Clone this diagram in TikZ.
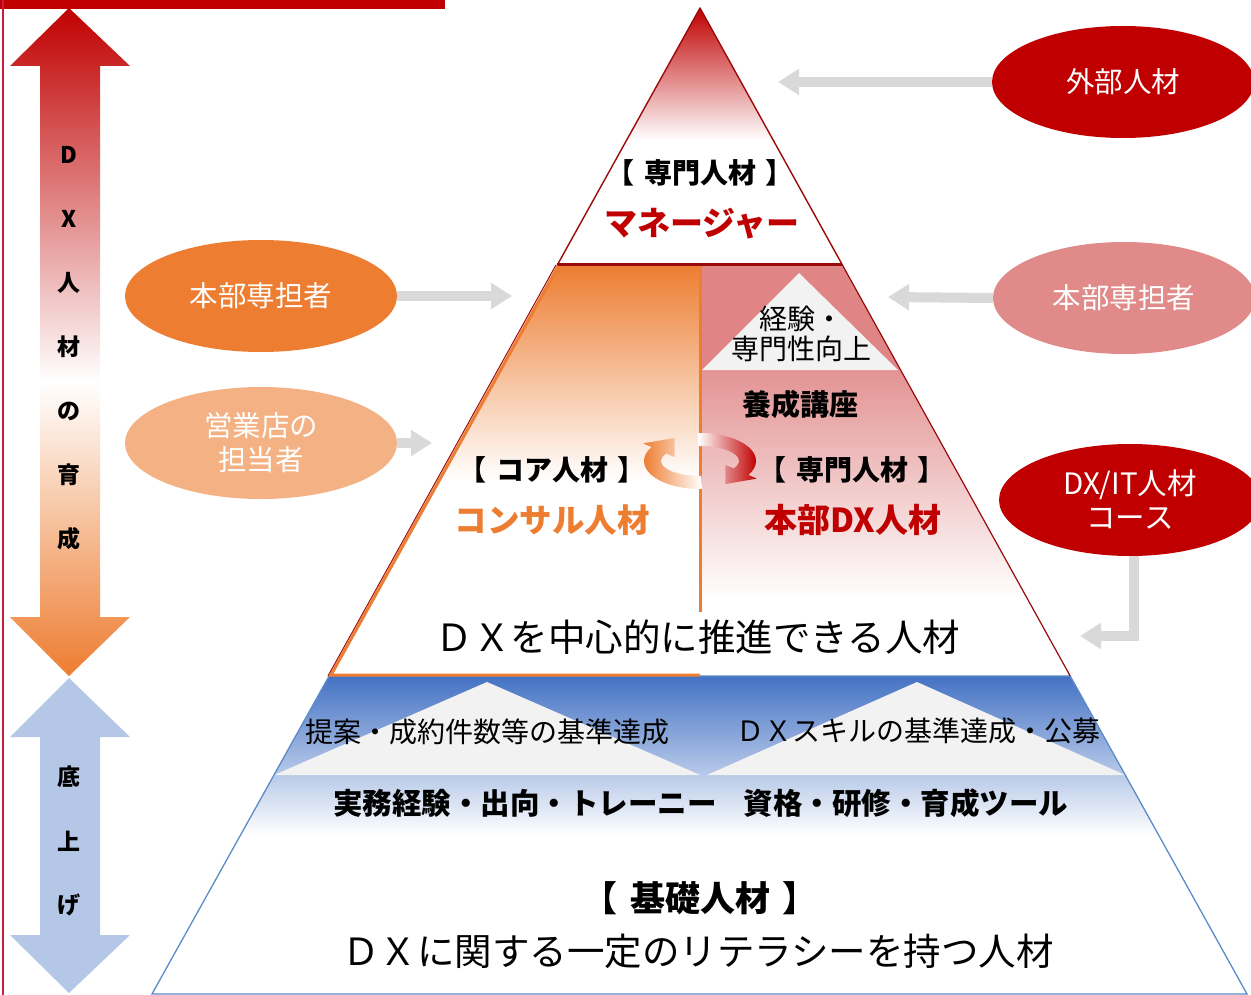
\documentclass[tikz,border=0pt]{standalone}
\usepackage{fontspec}
\setmainfont{Noto Sans CJK JP}
\usetikzlibrary{arrows.meta,shapes.geometric}
\definecolor{dxred}{HTML}{C00000}
\definecolor{dxdark}{HTML}{9A0A0A}
\definecolor{dxorange}{HTML}{ED7D31}
\definecolor{dxpeach}{HTML}{F4B183}
\definecolor{dxpink}{HTML}{E08A8A}
\definecolor{dxpinkbg}{HTML}{E08585}
\definecolor{dxpinklt}{HTML}{E39393}
\definecolor{dxblue}{HTML}{4472C4}
\definecolor{dxedge}{HTML}{5B8BC8}
\definecolor{dxlblue}{HTML}{B4C7E7}
\definecolor{dxgray}{HTML}{D9D9D9}
\definecolor{dxlgray}{HTML}{F2F2F2}
\definecolor{dxcrimson}{HTML}{C41E3A}
\pgfdeclareverticalshading{dxarrowshade}{100bp}{color(0bp)=(dxorange); color(25bp)=(dxorange); color(47bp)=(white); color(75bp)=(dxred); color(100bp)=(dxred)}
\tikzset{
  fs/.style={font=\fontsize{#1}{#1}\selectfont},
  fb/.style={font=\fontsize{#1}{#1}\selectfont\bfseries},
  oval/.style={ellipse, minimum width=262pt, minimum height=112pt, inner sep=0pt, text=white, align=center, font=\fontsize{28.5}{34}\selectfont},
  grayarrow/.style={draw=dxgray, line width=10pt, -{Triangle[width=25pt,length=21pt]}},
  sidetxt/.style={font=\fontsize{23}{23}\selectfont\bfseries, text=black}
}
\newcommand{\gap}{\hspace{0.35em}}
\begin{document}
\begin{tikzpicture}[x=1pt,y=-1pt]
\useasboundingbox (0,0) rectangle (1251,995);
\fill[white] (0,0) rectangle (1251,995);

% top red bar and left line
\fill[dxred] (0,0) rectangle (445,9);
\draw[dxcrimson, line width=2pt] (3,0) -- (3,995);

% left double arrow (red - white - orange)
\shade[shading=dxarrowshade]
  (69,8) -- (130,66) -- (100,66) -- (100,617) -- (130,617) -- (69,676)
  -- (10,617) -- (40,617) -- (40,66) -- (10,66) -- cycle;
\foreach \t/\yy in {D/155, X/219, 人/283, 材/347, の/411, 育/475, 成/539}
  \node[sidetxt] at (69,\yy) {\t};

% left double arrow (blue)
\fill[dxlblue]
  (69,678) -- (130,737) -- (100,737) -- (100,935) -- (130,935) -- (69,993)
  -- (10,935) -- (40,935) -- (40,737) -- (10,737) -- cycle;
\foreach \t/\yy in {底/777, 上/841, げ/905}
  \node[sidetxt] at (69,\yy) {\t};

% ---------- top triangle ----------
\begin{scope}
  \clip (700,8) -- (842.4,265) -- (557.3,265) -- cycle;
  \shade[top color=dxred, bottom color=white] (540,8) rectangle (860,140);
\end{scope}
\draw[dxdark, line width=1.4pt, line join=round] (700,8) -- (842.4,265) -- (557.3,265) -- cycle;

% ---------- middle section ----------
\begin{scope}
  \clip (557.3,265) -- (700,265) -- (700,676) -- (329.1,676) -- cycle;
  \shade[top color=dxorange, bottom color=white] (320,265) rectangle (700,480);
\end{scope}
\begin{scope}
  \clip (700,265) -- (842.4,265) -- (1070.2,676) -- (700,676) -- cycle;
  \fill[dxpinkbg] (700,265) rectangle (1080,370);
  \shade[top color=dxpinklt, bottom color=white] (700,370) rectangle (1080,600);
\end{scope}
\fill[dxlgray] (799,273) -- (898,370) -- (702,370) -- cycle;

% ---------- blue band ----------
\begin{scope}
  \clip (329.1,676) -- (1070.2,676) -- (1158.3,835) -- (240.9,835) -- cycle;
  \shade[top color=dxblue, bottom color=white] (230,676) rectangle (1170,835);
\end{scope}
\fill[dxlgray] (487,682) -- (700,775) -- (274.2,775) -- cycle;
\fill[dxlgray] (917,682) -- (1125,775) -- (707,775) -- cycle;

% outlines
\draw[dxedge, line width=1.3pt] (329.1,676) -- (152,994) -- (1247,994) -- (1070.2,676) -- cycle;
\draw[dxdark, line width=1.2pt] (842.4,265) -- (1070.2,676);
\draw[dxdark, line width=3pt] (557.3,265) -- (842.4,265);
\draw[dxdark, line width=1pt] (556,265) -- (328,676);
\draw[dxorange, line width=3pt, line join=miter] (558.5,266) -- (331,675) -- (700,675);
\draw[dxorange, line width=3pt] (700,266) -- (700,612);

% rotating arrows
\shade[left color=dxorange, right color=white]
  (701.95,488.98) arc[start angle=88, end angle=210, x radius=56, y radius=28]
  -- (643.3,443.4) -- (674.6,437.9) -- (674.5,457.1) -- (666.23,453.5)
  arc[start angle=210, end angle=88, x radius=39, y radius=15] -- cycle;
\shade[left color=white, right color=dxred]
  (698.05,433.02) arc[start angle=268, end angle=390, x radius=56, y radius=28]
  -- (756.7,478.6) -- (725.4,484.1) -- (725.5,464.9) -- (733.77,468.5)
  arc[start angle=390, end angle=268, x radius=39, y radius=15] -- cycle;

% ---------- texts in pyramid ----------
\node[fb=28] (t1) at (700,173) {【\gap 専門人材\gap 】};
\node[fb=33, text=dxred] (t2) at (702,224) {マネージャー};
\node[fs=28, align=center] (t3) at (801,334) {経験・\\[2pt]専門性向上};
\node[fb=29] (t4) at (800,404) {養成講座};
\node[fb=28] (t5) at (552,470) {【\gap コア人材\gap 】};
\node[fb=32.5, text=dxorange] (t6) at (552,520) {コンサル人材};
\node[fb=28] (t7) at (852,470) {【\gap 専門人材\gap 】};
\node[fb=33, text=dxred] (t8) at (853,520) {本部DX人材};
\node[fs=37.5] (t9) at (698,637) {ＤＸを中心的に推進できる人材};
\node[fs=28] (t10) at (487,732) {提案・成約件数等の基準達成};
\node[fs=28] (t11) at (918,731) {ＤＸスキルの基準達成・公募};
\node[fb=29.5] (t12) at (525,803) {実務経験・出向・トレーニー};
\node[fb=29.5] (t13) at (906,803) {資格・研修・育成ツール};
\node[fb=35] (t14) at (700,898) {【\gap 基礎人材\gap 】};
\node[fs=37.5] (t15) at (698,951) {ＤＸに関する一定のリテラシーを持つ人材};

% ---------- ellipses ----------
\node[oval, fill=dxred] (gaibu) at (1123,82) {外部人材};
\node[oval, fill=dxpink] (honbuR) at (1124,298) {本部専担者};
\node[oval, fill=dxred, font=\fontsize{29.5}{34}\selectfont] (dxit) at (1130,500) {DX/IT人材\\コース};
\node[oval, fill=dxorange, minimum width=272pt] (honbuL) at (261,296) {本部専担者};
\node[oval, fill=dxpeach, minimum width=272pt] (eigyo) at (261,443) {営業店の\\担当者};

% ---------- gray arrows ----------
\coordinate (gaibuTip) at (778,82);
\coordinate (honbuRTip) at (888,297);
\coordinate (honbuLTip) at (512,296);
\coordinate (eigyoTip) at (432,443);
\coordinate (dxitFoot) at (1134,556);
\coordinate (dxitTip) at (1080,636);
\draw[grayarrow] (gaibu.west) -- (gaibuTip);
\draw[grayarrow] (honbuR.west) -- (honbuRTip);
\draw[grayarrow] (honbuL.east) -- (honbuLTip);
\draw[grayarrow] (eigyo.east) -- (eigyoTip);
\draw[grayarrow] (dxitFoot) |- (dxitTip);
\end{tikzpicture}
\end{document}
